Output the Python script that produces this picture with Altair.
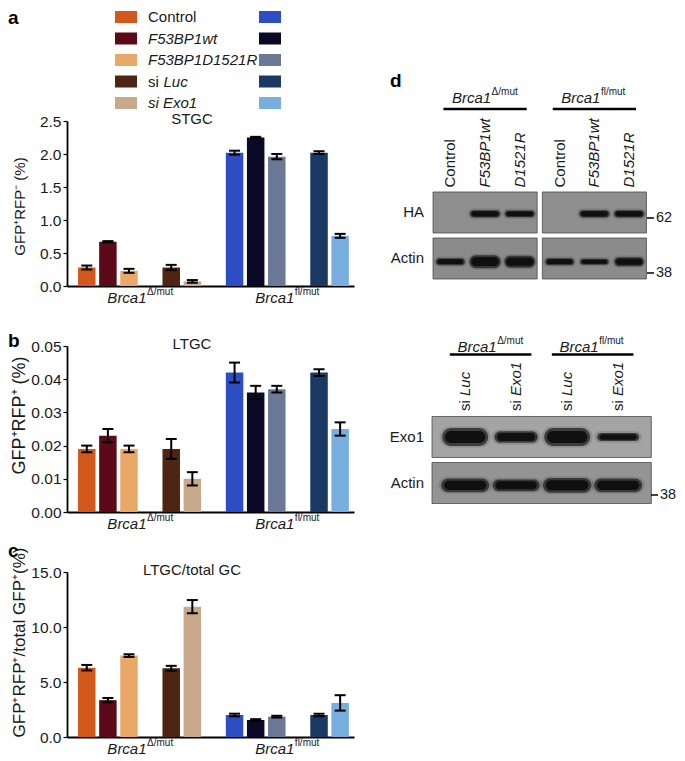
import altair as alt
import pandas as pd

FONT = "Liberation Sans"
INK = "#1a1a1a"

# ------------------------------------------------------------------ data
conditions = ["Control", "F53BP1wt", "F53BP1D1521R", "si Luc", "si Exo1"]
genotype_sup = ["Δ/mut", "fl/mut"]

stgc_delta = [0.28, 0.67, 0.23, 0.28, 0.07]
stgc_delta_err = [0.03, 0.01, 0.03, 0.04, 0.02]
stgc_fl = [2.02, 2.25, 1.96, 2.02, 0.76]
stgc_fl_err = [0.03, 0.01, 0.04, 0.02, 0.03]

ltgc_delta = [0.019, 0.023, 0.019, 0.019, 0.010]
ltgc_delta_err = [0.001, 0.002, 0.001, 0.003, 0.002]
ltgc_fl = [0.042, 0.036, 0.037, 0.042, 0.025]
ltgc_fl_err = [0.003, 0.002, 0.001, 0.001, 0.002]

ratio_delta = [6.3, 3.35, 7.4, 6.25, 11.85]
ratio_delta_err = [0.25, 0.2, 0.12, 0.22, 0.6]
ratio_fl = [2.0, 1.55, 1.85, 2.0, 3.1]
ratio_fl_err = [0.12, 0.07, 0.08, 0.12, 0.7]

stgc_ticks = [0, 0.5, 1.0, 1.5, 2.0, 2.5]
ltgc_ticks = [0, 0.01, 0.02, 0.03, 0.04, 0.05]
ratio_ticks = [0, 5, 10, 15]

legend_upright = ["Control", "", "", "si", ""]
legend_italic = ["", "F53BP1wt", "F53BP1D1521R", "Luc", "si Exo1"]

# western blots: relative band signal per lane
ha_lanes = ["Control", "F53BP1wt", "D1521R"]
ha_signal = [0.0, 1.0, 0.95, 0.0, 1.0, 1.0]
actin_top_signal = [0.55, 1.0, 0.92, 0.55, 0.47, 0.7]
si_lanes = ["Luc", "Exo1"]
exo1_signal = [1.0, 0.65, 1.0, 0.45]
actin_bottom_signal = [0.93, 0.8, 1.0, 0.93]

# ------------------------------------------------------------------ styles
orange_palette = ["#D2581C", "#5C0A19", "#EAA868", "#4D2512", "#C8A98B"]
blue_palette = ["#2D4EC3", "#0A0A26", "#6B7896", "#1A3A64", "#79AEE0"]

PW = 287  # bar panel plot width
TITLE_X = -48


def panel_df(md, ed, mf, ef):
    recs = []
    for g, (means, errs, pal) in enumerate([(md, ed, orange_palette), (mf, ef, blue_palette)]):
        for i, cond in enumerate(conditions):
            pos = 1 + g * 7 + i + (1 if i >= 3 else 0)
            recs.append({"pos": pos, "cond": cond, "value": means[i],
                         "lo": means[i] - errs[i], "hi": means[i] + errs[i],
                         "color": pal[i], "g": g})
    return pd.DataFrame(recs)


def bar_panel(df, ymax, ticks, fmt, ytitle, tsize, ty, ptitle, letter, letter_y, h):
    xs = alt.Scale(domain=[0.3, 13.42], nice=False, zero=False)
    xax = alt.Axis(labels=False, ticks=False, grid=False, title=None,
                   domainColor="black", domainWidth=1.8)
    ys = alt.Scale(domain=[0, ymax], nice=False, zero=True)
    yax = alt.Axis(values=ticks, format=fmt, title=ytitle, titleFontSize=tsize,
                   titleFontWeight="normal", titleX=TITLE_X, titleY=ty, titleAngle=270,
                   titleAlign="center", titleBaseline="middle", titleColor=INK,
                   labelFontSize=15.5, labelColor=INK, labelPadding=2, tickSize=4,
                   tickWidth=1.2, tickColor="black", domainColor="black",
                   domainWidth=1.8, grid=False)

    def X(f):
        return alt.X(f, scale=xs, axis=xax)

    def Y(f):
        return alt.Y(f, scale=ys, axis=yax)

    base = alt.Chart(df)
    bars = base.mark_bar(size=17.5, orient="vertical", opacity=1).encode(
        x=X("pos:Q"), y=Y("value:Q"), color=alt.Color("color:N", scale=None))
    err = base.mark_rule(color="black", strokeWidth=2).encode(
        x=X("pos:Q"), y=Y("lo:Q"), y2="hi:Q")
    cap_lo = base.mark_tick(orient="horizontal", size=11, thickness=2, color="black",
                            opacity=1).encode(x=X("pos:Q"), y=Y("lo:Q"))
    cap_hi = base.mark_tick(orient="horizontal", size=11, thickness=2, color="black",
                            opacity=1).encode(x=X("pos:Q"), y=Y("hi:Q"))

    gpos = df.groupby("g")["pos"]
    gdf = pd.DataFrame({"pos": ((gpos.min() + gpos.max()) / 2).values,
                        "base": ["Brca1", "Brca1"], "sup": genotype_sup})
    glab = alt.Chart(gdf).mark_text(fontSize=15, fontStyle="italic", align="right",
                                    baseline="alphabetic", dx=7, color=INK).encode(
        x=X("pos:Q"), y=alt.value(h + 17), text="base:N")
    gsup = alt.Chart(gdf).mark_text(fontSize=10, align="left", baseline="alphabetic",
                                    dx=7.5, color=INK).encode(
        x=X("pos:Q"), y=alt.value(h + 9), text="sup:N")
    ttl = alt.Chart(pd.DataFrame({"t": [ptitle]})).mark_text(
        fontSize=15, baseline="middle", color=INK).encode(
        x=alt.value(125), y=alt.value(-2), text="t:N")
    layers = [bars, err, cap_lo, cap_hi, glab, gsup, ttl]
    if letter:
        layers.append(alt.Chart(pd.DataFrame({"t": [letter]})).mark_text(
            fontSize=19, fontWeight="bold", align="left", baseline="alphabetic",
            color="black").encode(x=alt.value(-59), y=alt.value(letter_y), text="t:N"))
    return alt.layer(*layers).properties(width=PW, height=h)


# ------------------------------------------------------------------ legend
LEG_H = 53
ROW_STEP = 21.5
leg = pd.DataFrame({"row": list(range(5)), "orange": orange_palette, "blue": blue_palette,
                    "up": legend_upright, "it": legend_italic,
                    "pref": [1 if p else 0 for p in legend_upright]})
y0 = -9.0 / ROW_STEP
ly = alt.Y("row:Q", scale=alt.Scale(domain=[y0, y0 + LEG_H / ROW_STEP], reverse=True,
                                    nice=False, zero=False), axis=None)
lbase = alt.Chart(leg)
sw_o = lbase.mark_tick(orient="horizontal", size=22, thickness=12, opacity=1).encode(
    x=alt.value(59), y=ly, color=alt.Color("orange:N", scale=None))
sw_b = lbase.mark_tick(orient="horizontal", size=22, thickness=12, opacity=1).encode(
    x=alt.value(203), y=ly, color=alt.Color("blue:N", scale=None))
t_up = lbase.mark_text(fontSize=15, align="left", baseline="middle", color=INK).encode(
    x=alt.value(81), y=ly, text="up:N")
t_it0 = lbase.transform_filter("datum.pref == 0").mark_text(
    fontSize=15, fontStyle="italic", align="left", baseline="middle", color=INK).encode(
    x=alt.value(81), y=ly, text="it:N")
t_it1 = lbase.transform_filter("datum.pref == 1").mark_text(
    fontSize=15, fontStyle="italic", align="left", baseline="middle", dx=15.5, color=INK).encode(
    x=alt.value(81), y=ly, text="it:N")
let_a = alt.Chart(pd.DataFrame({"t": ["a"]})).mark_text(
    fontSize=19, fontWeight="bold", align="left", baseline="top", color="black").encode(
    x=alt.value(-59), y=alt.value(1), text="t:N")
legend_chart = alt.layer(sw_o, sw_b, t_up, t_it0, t_it1, let_a).properties(width=PW, height=LEG_H)

# ------------------------------------------------------------------ bar panels
chart_a = bar_panel(panel_df(stgc_delta, stgc_delta_err, stgc_fl, stgc_fl_err), 2.5, stgc_ticks,
                    ".1f", "GFP⁺RFP⁻ (%)", 15, 85, "STGC", None, 0, 165)
chart_b = bar_panel(panel_df(ltgc_delta, ltgc_delta_err, ltgc_fl, ltgc_fl_err), 0.05, ltgc_ticks,
                    ".2f", "GFP⁺RFP⁺ (%)", 18, 69, "LTGC", "b", 1, 166)
chart_c = bar_panel(panel_df(ratio_delta, ratio_delta_err, ratio_fl, ratio_fl_err), 15, ratio_ticks,
                    ".1f", "GFP⁺RFP⁺/total GFP⁺(%)", 17, 70, "LTGC/total GC", "c", -15, 165)


# ------------------------------------------------------------------ blots
def blot_chart(lane_names, n_groups, group_gap, unit, box_margin, single_box, rows, fills,
               italic_flags, lane_kind, header_y, underline_y, underline_ext, lane_y, markers,
               xstart, height, ydom):
    BW = 224
    xs = alt.Scale(domain=[xstart, xstart + BW / unit], nice=False, zero=False)
    ys = alt.Scale(domain=ydom, reverse=True, nice=False, zero=False)
    n = len(lane_names)
    lanes = []
    for g in range(n_groups):
        for i, name in enumerate(lane_names):
            lanes.append({"k": g * n + i, "g": g, "lx": 1 + i + g * (n + group_gap),
                          "name": name, "it": italic_flags[i]})
    lanes = pd.DataFrame(lanes)

    boxes, bands = [], []
    for r, (rname, sig, tmax, off, wfac) in enumerate(rows):
        groups = [lanes] if single_box else [lanes[lanes.g == g] for g in range(n_groups)]
        for grp in groups:
            boxes.append({"x1": grp.lx.min() - box_margin, "x2": grp.lx.max() + box_margin,
                          "y1": r - 0.4457, "y2": r + 0.4457, "fill": fills[r]})
        for k, s in enumerate(sig):
            if s <= 0:
                continue
            lx = lanes.lx.iloc[k]
            w = wfac * (0.85 + 0.15 * s)
            t = tmax * s
            yc = r + off
            bands.append({"x1": lx - w / 2, "x2": lx + w / 2, "y1": yc - t / 2, "y2": yc + t / 2,
                          "cx1": lx - 0.44 * w, "cx2": lx + 0.44 * w,
                          "cy1": yc - 0.34 * t, "cy2": yc + 0.34 * t,
                          "hx1": lx - w / 2 - 0.05, "hx2": lx + w / 2 + 0.05,
                          "hy1": yc - t / 2 - 0.035, "hy2": yc + t / 2 + 0.035})
    boxes = pd.DataFrame(boxes)
    bands = pd.DataFrame(bands)

    def X(f):
        return alt.X(f, scale=xs, axis=None)

    def Y(f):
        return alt.Y(f, scale=ys, axis=None)

    box_l = alt.Chart(boxes).mark_rect(stroke="#4a4a4a", strokeWidth=0.8).encode(
        x=X("x1:Q"), x2="x2:Q", y=Y("y1:Q"), y2="y2:Q", fill=alt.Fill("fill:N", scale=None))
    halo = alt.Chart(bands).mark_rect(cornerRadius=30, color="#2a2a2a", opacity=0.18).encode(
        x=X("hx1:Q"), x2="hx2:Q", y=Y("hy1:Q"), y2="hy2:Q")
    outer = alt.Chart(bands).mark_rect(cornerRadius=30, color="#1a1a1a", opacity=0.7).encode(
        x=X("x1:Q"), x2="x2:Q", y=Y("y1:Q"), y2="y2:Q")
    core = alt.Chart(bands).mark_rect(cornerRadius=30, color="#080808", opacity=0.85).encode(
        x=X("cx1:Q"), x2="cx2:Q", y=Y("cy1:Q"), y2="cy2:Q")

    rdf = pd.DataFrame({"r": [0, 1], "name": [rw[0] for rw in rows]})
    rlab = alt.Chart(rdf).mark_text(fontSize=15, align="right", baseline="middle", color=INK).encode(
        x=alt.value(-8), y=Y("r:Q"), text="name:N")

    layers = [box_l, halo, outer, core, rlab]

    if lane_kind == "plain":
        for flag, style in [(False, "normal"), (True, "italic")]:
            layers.append(alt.Chart(lanes[lanes.it == flag]).mark_text(
                fontSize=15, fontStyle=style, angle=270, align="left", baseline="middle",
                color=INK).encode(x=X("lx:Q"), y=alt.value(lane_y), text="name:N"))
    else:
        layers.append(alt.Chart(lanes.assign(pre="si")).mark_text(
            fontSize=15, angle=270, align="left", baseline="middle", color=INK).encode(
            x=X("lx:Q"), y=alt.value(lane_y), text="pre:N"))
        layers.append(alt.Chart(lanes).mark_text(
            fontSize=15, fontStyle="italic", angle=270, align="left", baseline="middle",
            dx=15, color=INK).encode(x=X("lx:Q"), y=alt.value(lane_y), text="name:N"))

    gl = lanes.groupby("g")["lx"]
    gdf = pd.DataFrame({"c": ((gl.min() + gl.max()) / 2).values,
                        "u1": (gl.min() - underline_ext).values,
                        "u2": (gl.max() + underline_ext).values,
                        "base": ["Brca1"] * n_groups, "sup": genotype_sup[:n_groups]})
    layers.append(alt.Chart(gdf).mark_text(fontSize=15, fontStyle="italic", align="right",
                                           baseline="alphabetic", dx=6, color=INK).encode(
        x=X("c:Q"), y=alt.value(header_y), text="base:N"))
    layers.append(alt.Chart(gdf).mark_text(fontSize=10, align="left", baseline="alphabetic",
                                           dx=6.5, color=INK).encode(
        x=X("c:Q"), y=alt.value(header_y - 8), text="sup:N"))
    layers.append(alt.Chart(gdf).mark_rule(strokeWidth=2.5, color="black").encode(
        x=X("u1:Q"), x2="u2:Q", y=alt.value(underline_y)))

    for label, mx, my in markers:
        mdf = pd.DataFrame({"m": [label]})
        layers.append(alt.Chart(mdf).mark_rule(strokeWidth=1.5, color="black").encode(
            x=alt.value(mx), x2=alt.value(mx + 7), y=alt.value(my)))
        layers.append(alt.Chart(mdf).mark_text(fontSize=14.5, align="left", baseline="middle",
                                               color=INK).encode(
            x=alt.value(mx + 9), y=alt.value(my), text="m:N"))
    return alt.layer(*layers).properties(width=BW, height=height)


# upper blot shares the row of panel a (plot top at page y 121)
upper_blot = blot_chart(
    ha_lanes, 2, 0.15, 34.7, 0.5, False,
    [("HA", ha_signal, 0.16, 0.03, 0.88), ("Actin", actin_top_signal, 0.28, 0.07, 0.9)],
    ["#8e8e8e", "#8b8b8b"], [False, True, True], "plain",
    -18, -12, 0.2, 66.5, [("62", 215, 97), ("38", 215, 152)], 0.47,
    165, [-1.989, 1.598])

# lower blot shares the row of panel b (plot top at page y 346)
lower_blot = blot_chart(
    si_lanes, 2, 0.0, 51.0, 0.65, True,
    [("Exo1", exo1_signal, 0.39, 0.0, 0.9), ("Actin", actin_bottom_signal, 0.32, 0.05, 0.95)],
    ["#a4a4a4", "#949494"], [True, True], "si",
    6, 8.5, 0.3, 65, [("38", 219, 149)], 0.35,
    166, [-1.978, 1.630])

spacer = alt.Chart(pd.DataFrame({"t": ["d"]})).mark_text(
    fontSize=19, fontWeight="bold", align="left", baseline="alphabetic", color="black").encode(
    x=alt.value(-42), y=alt.value(79), text="t:N").properties(width=224, height=LEG_H)

chart = alt.concat(
    legend_chart, spacer,
    chart_a, upper_blot,
    chart_b, lower_blot,
    chart_c,
    columns=2, spacing={"row": 60, "column": 78}, bounds="flush", align="each",
).properties(padding=0).configure(font=FONT).configure_view(stroke=None)

chart.save("out.html", embed_options={"renderer": "svg", "actions": False})
